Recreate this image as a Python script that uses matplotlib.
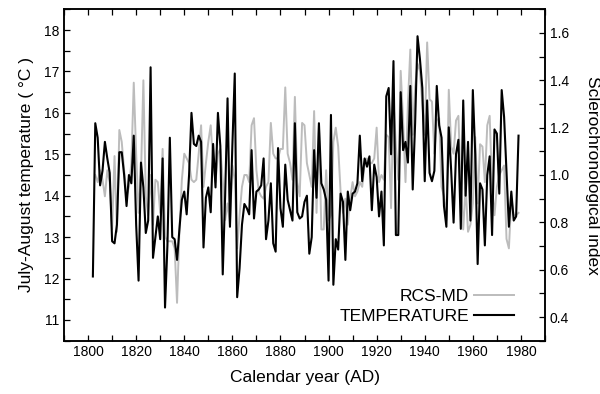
import matplotlib
matplotlib.use("Agg")
import matplotlib.pyplot as plt
from matplotlib.ticker import MultipleLocator
from matplotlib.lines import Line2D

plt.rcParams['font.family'] = ['Liberation Sans', 'DejaVu Sans']

temp_years = list(range(1802, 1980))
temperature = [
    12.05, 15.75, 15.4, 14.25, 14.6, 15.3, 14.9, 14.55, 12.9, 12.85,
    13.3, 15.05, 15.05, 14.5, 13.75, 14.5, 14.3, 15.45, 13.3, 11.95,
    14.8, 14.2, 13.1, 13.4, 17.1, 12.5, 13.0, 13.5, 12.95, 14.9,
    11.3, 12.8, 15.4, 13.0, 12.95, 12.45, 13.2, 13.9, 14.1, 13.55,
    14.5, 16.0, 15.25, 15.2, 15.45, 15.3, 12.75, 13.95, 14.2, 13.6,
    15.25, 14.2, 16.0, 15.2, 12.1, 14.0, 16.35, 13.25, 15.2, 16.95,
    11.55, 12.25, 13.3, 13.8, 13.7, 13.55, 15.1, 13.45, 14.1, 14.15,
    14.25, 14.9, 12.95, 13.4, 14.3, 12.85, 12.65, 15.15, 13.7, 13.25,
    14.75, 13.9, 13.65, 13.4, 15.75, 13.6, 13.45, 13.5, 13.85, 14.0,
    12.6, 13.0, 15.1, 13.95, 15.75, 14.3, 14.15, 13.9, 11.95, 15.95,
    11.85, 12.95, 12.7, 14.05, 13.85, 12.45, 14.1, 13.65, 14.05, 14.1,
    14.3, 15.45, 14.35, 14.9, 14.7, 14.95, 13.65, 14.75, 14.45, 13.5,
    14.1, 12.8, 16.4, 16.6, 15.0, 17.25, 13.05, 13.05, 16.5, 15.1,
    15.3, 14.8, 16.65, 14.15, 15.75, 17.85, 17.3, 16.6, 14.35, 16.3,
    14.55, 14.35, 14.6, 16.65, 15.7, 15.4, 13.75, 13.25, 15.65, 14.6,
    13.35, 15.0, 15.35, 13.2, 16.3, 14.0, 15.3, 13.4, 16.55, 15.0,
    12.35, 14.3, 14.15, 12.8, 14.5, 14.95, 13.05, 15.6, 15.5, 14.05,
    16.55, 15.9, 14.6, 13.25, 14.1, 13.4, 13.5, 15.45,
]

rcs_years = list(range(1803, 1980))
rcs_md = [
    1.00, 0.97, 1.02, 0.98, 0.91, 1.02, 0.97, 0.77, 1.08, 0.76,
    1.19, 1.14, 1.02, 0.91, 0.95, 1.05, 1.39, 1.09, 0.84, 1.00,
    1.40, 0.91, 0.83, 1.00, 0.79, 0.98, 0.97, 0.84, 1.11, 0.74,
    0.72, 0.72, 0.72, 0.69, 0.46, 0.77, 0.98, 1.09, 1.07, 1.05,
    0.98, 0.97, 0.98, 1.09, 1.21, 0.95, 1.05, 1.14, 1.21, 1.05,
    0.97, 1.09, 1.11, 0.98, 0.81, 0.88, 0.79, 1.04, 0.98, 0.69,
    0.83, 0.95, 1.00, 1.00, 0.97, 1.21, 1.24, 1.02, 0.93, 0.91,
    0.90, 0.95, 0.97, 1.22, 1.09, 1.07, 1.07, 1.11, 1.11, 1.37,
    1.09, 1.05, 0.98, 1.33, 0.97, 0.91, 1.22, 1.21, 1.05, 1.00,
    0.95, 1.27, 0.84, 1.21, 0.77, 0.77, 1.02, 0.81, 0.83, 1.14,
    1.20, 1.12, 0.93, 0.84, 0.90, 0.79, 0.90, 0.97, 0.91, 0.93,
    0.97, 0.95, 1.05, 1.07, 1.05, 1.05, 1.07, 1.20, 0.97, 1.00,
    0.98, 1.17, 1.16, 0.86, 1.32, 1.12, 0.98, 1.44, 1.23, 0.97,
    1.30, 1.53, 1.17, 1.37, 1.47, 1.44, 1.30, 1.17, 1.56, 1.32,
    1.31, 1.09, 1.23, 1.24, 0.95, 0.91, 0.81, 1.36, 1.12, 1.09,
    1.23, 1.25, 0.95, 0.77, 0.95, 0.76, 0.79, 0.88, 1.16, 0.88,
    1.13, 1.12, 0.97, 1.21, 1.25, 0.95, 0.83, 0.95, 1.00, 1.02,
    1.04, 0.73, 0.69, 0.90, 0.83, 0.83, 0.84,
]

x_ticks = list(range(1800, 1981, 20))
left_ticks = list(range(11, 19))
right_ticks = [0.4, 0.6, 0.8, 1.0, 1.2, 1.4, 1.6]

fig = plt.figure(figsize=(6.0, 3.94), dpi=100)
ax = fig.add_axes([0.1067, 0.1353, 0.8016, 0.8411])
ax2 = ax.twinx()

gray_c = '#bcbcbc'
ax2.plot(rcs_years, rcs_md, color=gray_c, lw=1.4)
ax.plot(temp_years, temperature, color='black', lw=1.5)

ax.set_zorder(ax2.get_zorder() + 1)
ax.patch.set_visible(False)

ax.set_xlim(1790, 1990)
ax.set_ylim(10.5, 18.5)
ax2.set_ylim(0.3, 1.7)

ax.set_xticks(x_ticks)
ax.xaxis.set_minor_locator(MultipleLocator(10))
ax.set_yticks(left_ticks)
ax.yaxis.set_minor_locator(MultipleLocator(0.5))
ax2.set_yticks(right_ticks)
ax2.yaxis.set_minor_locator(MultipleLocator(0.1))

ax.tick_params(axis='x', which='both', direction='in', top=True, bottom=True,
               length=4.5, width=0.9, labelsize=10, pad=3)
ax.tick_params(axis='y', which='both', direction='in', left=True, right=False,
               length=4.5, width=0.9, labelsize=10)
ax2.tick_params(axis='y', which='both', direction='in', length=4.5, width=0.9,
                labelsize=10)

for a in (ax, ax2):
    for s in a.spines.values():
        s.set_linewidth(1.1)

ax.set_xlabel('Calendar year (AD)', fontsize=12.5, labelpad=8)
ax.set_ylabel('July-August temperature ( °C )', fontsize=12.5, labelpad=7)
ax2.set_ylabel('Sclerochronological index', fontsize=12.5, rotation=270,
               labelpad=22)

handles = [Line2D([], [], color=gray_c, lw=1.4),
           Line2D([], [], color='black', lw=1.5)]
ax.legend(handles, ['RCS-MD', 'TEMPERATURE'], loc='lower right',
          bbox_to_anchor=(0.95, 0.03), frameon=False, markerfirst=False,
          fontsize=12.5, handlelength=2.3, handletextpad=0.3,
          labelspacing=0.25, borderaxespad=0)

fig.savefig('out.png', dpi=100)
